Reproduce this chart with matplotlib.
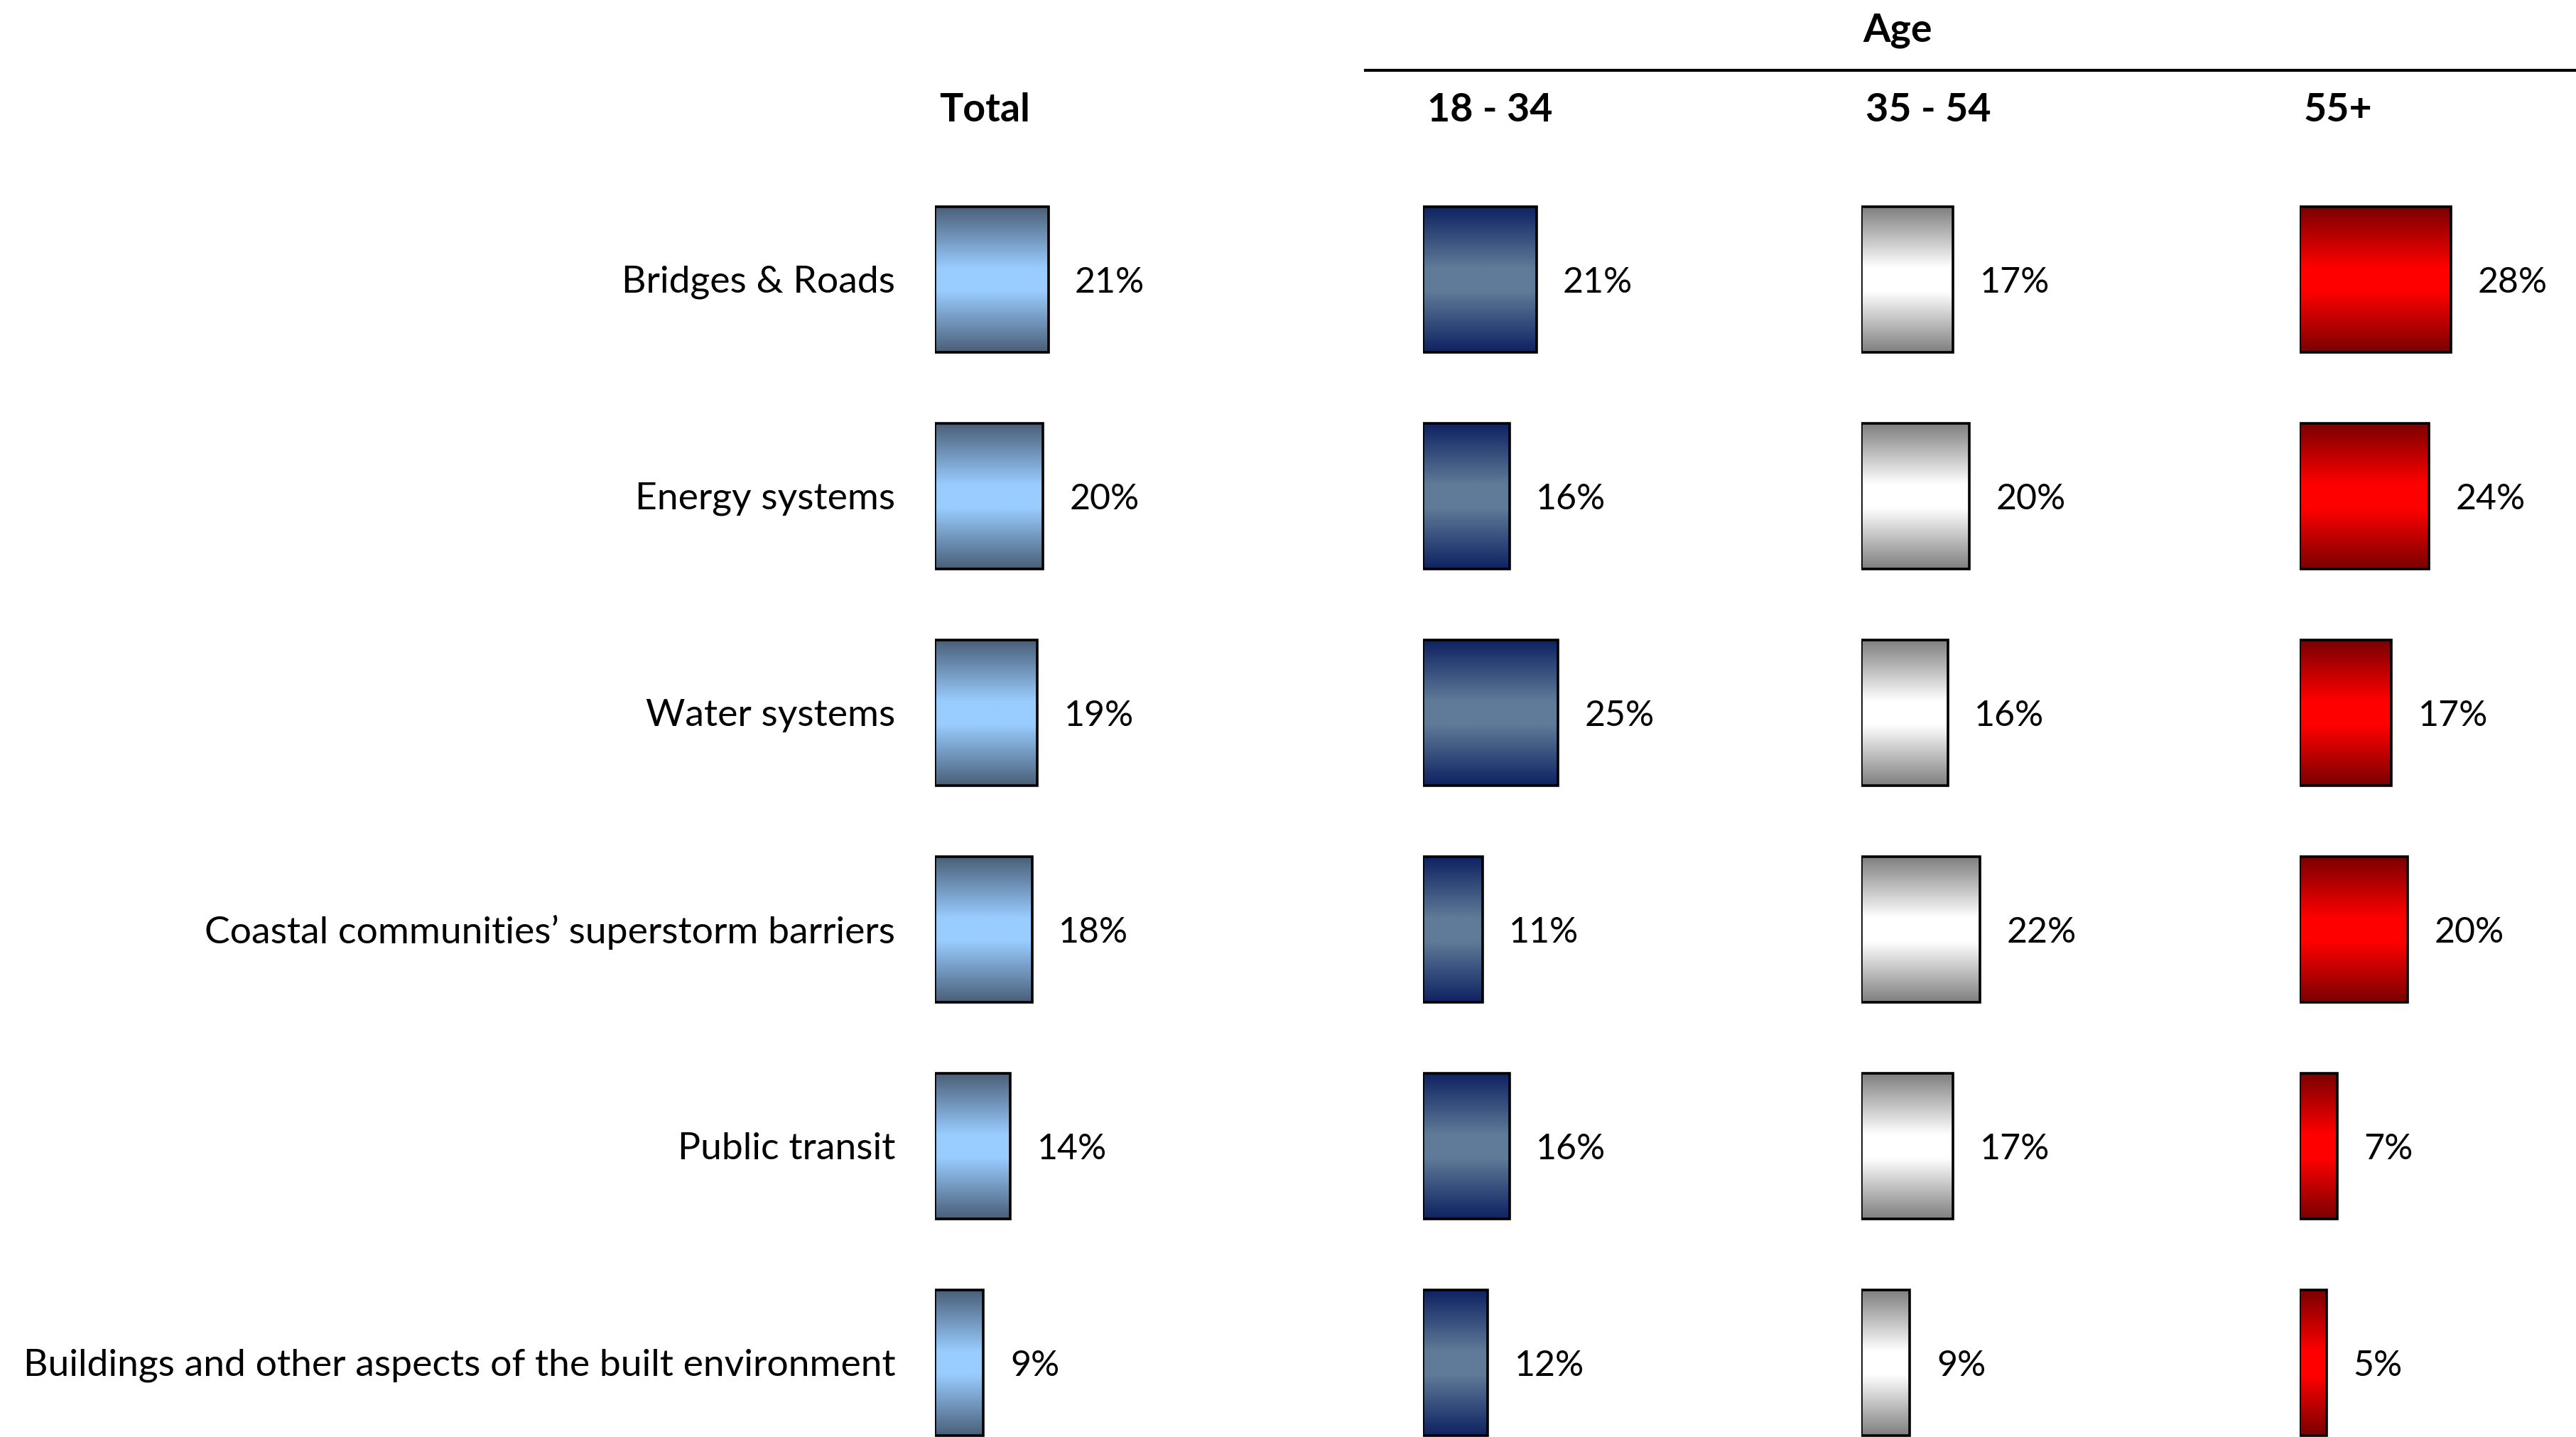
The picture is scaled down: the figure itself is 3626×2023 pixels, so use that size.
import numpy as np
import matplotlib
matplotlib.use("Agg")
import matplotlib.pyplot as plt
from matplotlib.colors import LinearSegmentedColormap
from matplotlib.lines import Line2D

plt.rcParams['font.family'] = ['Lato', 'DejaVu Sans']

categories = ["Bridges & Roads", "Energy systems", "Water systems",
              "Coastal communities\u2019 superstorm barriers", "Public transit",
              "Buildings and other aspects of the built environment"]
groups = ["Total", "18 - 34", "35 - 54", "55+"]
total = [21, 20, 19, 18, 14, 9]
age_18_34 = [21, 16, 25, 11, 16, 12]
age_35_54 = [17, 20, 16, 22, 17, 9]
age_55_plus = [28, 24, 17, 20, 7, 5]
series = [total, age_18_34, age_35_54, age_55_plus]

# edge colour, centre colour of each vertical gradient
shades = [("#4a5f78", "#99ccff"),
          ("#0e2262", "#5f7b98"),
          ("#7f7f7f", "#ffffff"),
          ("#7a0000", "#ff0000")]

W, H = 3626, 2023
fig = plt.figure(figsize=(W / 100, H / 100), dpi=100)

px_per_pct = 7.6
pitch = 305
bar_h = 205
band_top = 291 - (pitch - bar_h) / 2
n = len(categories)
ax_w = 420
panel_left = [1316, 2003, 2620, 3237]

for k, (vals, (edge_c, mid_c)) in enumerate(zip(series, shades)):
    left = panel_left[k]
    bottom_px = band_top + n * pitch
    ax = fig.add_axes([left / W, 1 - bottom_px / H, ax_w / W, n * pitch / H])
    cmap = LinearSegmentedColormap.from_list(
        f"grad{k}", [(0, edge_c), (0.42, mid_c), (0.58, mid_c), (1, edge_c)])
    grad = np.linspace(0, 1, 256).reshape(-1, 1)
    hh = bar_h / pitch
    y = np.arange(n)
    bars = ax.barh(y, vals, height=hh, left=0, facecolor="none",
                   edgecolor="black", linewidth=2.6, zorder=3)
    for b, v, yi in zip(bars, vals, y):
        im = ax.imshow(grad, cmap=cmap, aspect="auto", interpolation="bicubic",
                       extent=[0, v, yi + hh / 2, yi - hh / 2], zorder=2)
        im.set_clip_path(b)
        ax.annotate(f"{v}%", xy=(v, yi), xytext=(27, -3), textcoords="offset points",
                    ha="left", va="center", fontsize=36)
    if k == 0:
        for yi, c in zip(y, categories):
            ax.annotate(c, xy=(0, yi), xytext=(-40, -3), textcoords="offset points",
                        ha="right", va="center", fontsize=38.5)
    ax.set_xlim(0, ax_w / px_per_pct)
    ax.set_ylim(n - 0.5, -0.5)
    ax.axis("off")
    fig.text((left + 6) / W, 1 - 155 / H, groups[k], ha="left", va="center",
             fontsize=40, fontweight="bold")

fig.text(2671 / W, 1 - 43 / H, "Age", ha="center", va="center",
         fontsize=40, fontweight="bold")
fig.add_artist(Line2D([1922 / W, 1.0], [1 - 99 / H, 1 - 99 / H],
                      transform=fig.transFigure, color="black", linewidth=3))

fig.savefig("out.png", dpi=100, facecolor="white")
